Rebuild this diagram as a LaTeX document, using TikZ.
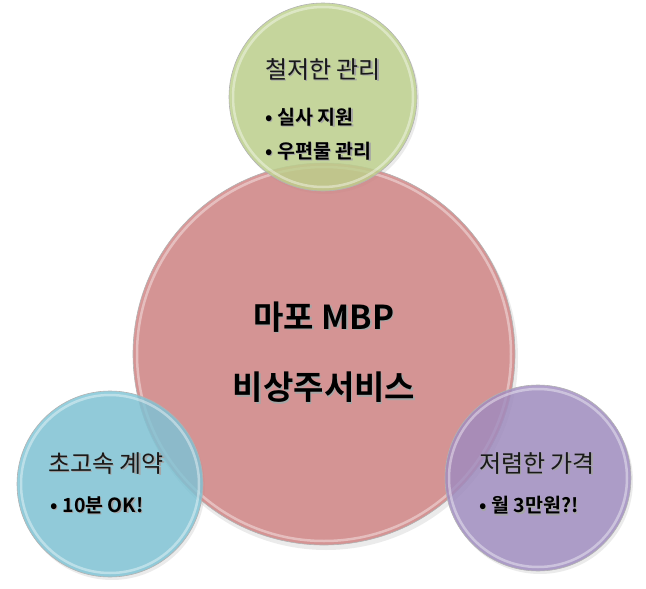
\documentclass[tikz,border=0pt]{standalone}
\usepackage{fontspec}
\setmainfont{Noto Sans CJK KR}
\newfontfamily\krbold{Noto Sans CJK KR Bold}
\definecolor{cred}{HTML}{D08282}
\definecolor{cgreen}{HTML}{BDD18C}
\definecolor{cblue}{HTML}{7EC4D6}
\definecolor{cpurple}{HTML}{A08CC0}
\newcommand\shtxt[1]{\makebox[0pt][l]{\raisebox{-1.3pt}{\hspace{1.3pt}\textcolor{black!35}{#1}}}#1}
\newcommand\bl{•\hspace{5pt}}
\tikzset{
  ball/.style={circle, draw=black!30, line width=0.6pt, fill opacity=0.82, inner sep=0pt},
  rim/.style={draw=white, draw opacity=0.4, line width=2.5pt},
  ttl/.style={font=\fontsize{24}{26}\selectfont, text=black!90},
  bul/.style={font=\krbold\fontsize{19.5}{21}\selectfont, anchor=west, inner sep=0pt},
  big/.style={font=\krbold\fontsize{33}{36}\selectfont},
}
\begin{document}
\begin{tikzpicture}[x=1pt,y=-1pt]
\useasboundingbox (0,0) rectangle (646,589);
% shadows
\fill[black, opacity=0.08] (326,358) circle (192);
\fill[black, opacity=0.08] (325,100) circle (94);
\fill[black, opacity=0.08] (112,487) circle (93);
\fill[black, opacity=0.08] (540,481) circle (93);
% main circle
\node[ball, fill=cred, minimum size=382pt] (main) at (324,354) {};
\draw[rim] (324,354) circle (187);
% top
\node[ball, fill=cgreen, minimum size=188pt] (top) at (323,97) {};
\draw[rim] (323,97) circle (90);
% left
\node[ball, fill=cblue, minimum size=186pt] (left) at (110,484) {};
\draw[rim] (110,484) circle (89);
% right
\node[ball, fill=cpurple, minimum size=186pt] (right) at (538,478) {};
\draw[rim] (538,478) circle (89);
% texts
\node[big] (m1) at (324,318) {\shtxt{마포 MBP}};
\node[big] (m2) at (324,388) {\shtxt{비상주서비스}};
\node[ttl] (t0) at (323,70) {\shtxt{철저한 관리}};
\node[bul] (t1) at (265,118) {\shtxt{\bl 실사 지원}};
\node[bul] (t2) at (265,152) {\shtxt{\bl 우편물 관리}};
\node[ttl] (l0) at (106,464) {\shtxt{초고속 계약}};
\node[bul] (l1) at (50,506) {\shtxt{\bl 10분 OK!}};
\node[ttl] (r0) at (537,464) {\shtxt{저렴한 가격}};
\node[bul] (r1) at (479,506) {\shtxt{\bl 월 3만원?!}};
\end{tikzpicture}
\end{document}
